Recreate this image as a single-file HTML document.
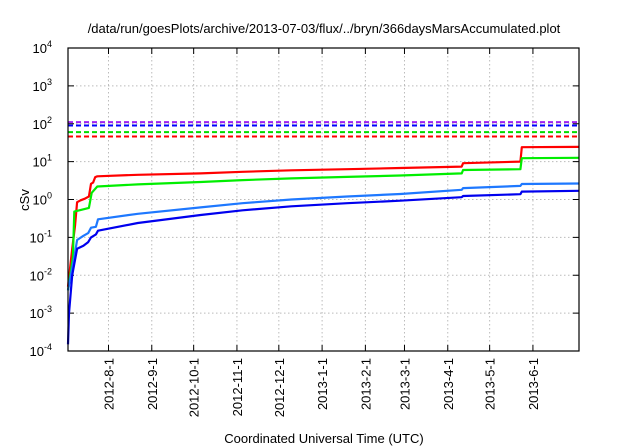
<!DOCTYPE html>
<html><head><meta charset="utf-8"><style>
body{margin:0;background:#fff;}
svg{display:block;font-family:"Liberation Sans",sans-serif;}
</style></head><body>
<svg id="chart" width="640" height="448" viewBox="0 0 640 448" xmlns="http://www.w3.org/2000/svg">
<text x="324" y="33" font-size="13" text-anchor="middle" fill="#000">/data/run/goesPlots/archive/2013-07-03/flux/../bryn/366daysMarsAccumulated.plot</text>
<text x="0" y="0" font-size="13" text-anchor="middle" transform="translate(29,200) rotate(-90)">cSv</text>
<text x="324" y="443" font-size="13" text-anchor="middle">Coordinated Universal Time (UTC)</text>
<g id="grid"></g><g id="axes"></g><g id="series"></g>
<rect x="68" y="48" width="511" height="303" fill="none" stroke="#000" stroke-width="1.2"/>
</svg>
<script>
const monthLabels=["2012-8-1","2012-9-1","2012-10-1","2012-11-1","2012-12-1","2013-1-1","2013-2-1","2013-3-1","2013-4-1","2013-5-1","2013-6-1"];
const monthDays=[29,60,90,121,151,182,213,241,272,302,333];
const decadeExps=[-4,-3,-2,-1,0,1,2,3,4];
const limitNames=["limit-purple","limit-blue","limit-green","limit-red"];
const limitValues=[110,90,60,46];
const limitColors=["#a020f0","#0000ff","#00dd00","#ff0000"];
const seriesNames=["red","green","light-blue","dark-blue"];
const seriesColors=["#ff0000","#00ee00","#1e78ff","#0000ee"];
const redDays=[0,3,5,6.5,9,12,15,16.5,18,19.5,21,50,95,125,160,200,238,282,283,324,325,366];
const redVals=[0.005,0.05,0.2,0.85,0.95,1.05,1.2,2.6,2.8,3.9,4.1,4.5,4.9,5.4,5.9,6.3,6.8,7.4,9.1,10,24,24.5];
const greenDays=[0,3.5,4.5,11,15,17,21,50,95,125,160,200,238,282,283,324,325,366];
const greenVals=[0.004,0.03,0.48,0.55,0.6,1.5,2.2,2.5,2.9,3.25,3.6,3.95,4.3,4.9,6,6.3,12.3,12.6];
const lblueDays=[0,4.5,6.5,11,14.5,16.5,20,21.5,50,95,125,160,200,238,282,283,324,325,366];
const lblueVals=[0.004,0.03,0.085,0.11,0.13,0.18,0.19,0.3,0.42,0.62,0.8,1.0,1.2,1.4,1.8,2.0,2.29,2.57,2.65];
const dblueDays=[0,0.7,3,4.5,6.5,11,14.5,16.5,20,21.5,50,95,125,160,200,238,282,283,324,325,366];
const dblueVals=[0.00015,0.001,0.01,0.02,0.05,0.06,0.075,0.1,0.12,0.15,0.24,0.39,0.52,0.66,0.8,0.93,1.15,1.24,1.38,1.62,1.7];
const allDays=[redDays,greenDays,lblueDays,dblueDays];
const allVals=[redVals,greenVals,lblueVals,dblueVals];

const X0=68,X1=579,Y0=48,Y1=351,DMAX=366;
const xs=d=>X0+(X1-X0)*d/DMAX;
const ys=v=>Y0+(4-Math.log10(v))*(Y1-Y0)/8;
const NS="http://www.w3.org/2000/svg";
function mk(tag,attrs,parent){const e=document.createElementNS(NS,tag);for(const k in attrs)e.setAttribute(k,attrs[k]);parent.appendChild(e);return e;}
const grid=document.getElementById('grid'),axes=document.getElementById('axes'),ser=document.getElementById('series');
decadeExps.forEach(p=>{
  const y=ys(Math.pow(10,p));
  if(p>-4&&p<4){const g=mk('line',{x1:X0,x2:X1,y1:y,y2:y,stroke:'#bbb','stroke-dasharray':'1.5,2.5'},grid);
  
  }
  const t=mk('line',{x1:X0,x2:X0+6,y1:y,y2:y,stroke:'#000'},axes);
  
  
  mk('line',{x1:X1-6,x2:X1,y1:y,y2:y,stroke:'#000'},axes);
  const tx=mk('text',{x:52,y:y+5,'font-size':13,'text-anchor':'end'},axes);
  
  
  tx.textContent='10';
  const sp=mk('tspan',{dy:-6,'font-size':9},tx);sp.textContent=String(p);
});
monthDays.forEach((d,i)=>{
  const x=xs(d);
  const g=mk('line',{x1:x,x2:x,y1:Y0,y2:Y1,stroke:'#bbb','stroke-dasharray':'1.5,2.5'},grid);
  
  
  mk('line',{x1:x,x2:x,y1:Y1-6,y2:Y1,stroke:'#000'},axes);
  mk('line',{x1:x,x2:x,y1:Y0,y2:Y0+6,stroke:'#000'},axes);
  const t=mk('text',{x:0,y:0,'font-size':13,'text-anchor':'end',transform:`translate(${x+5},${Y1+7}) rotate(-90)`},axes);
  
  
  t.textContent=monthLabels[i];
});
limitValues.forEach((v,i)=>{
  const y=ys(v);
  const l=mk('line',{x1:X0,x2:X1,y1:y,y2:y,stroke:limitColors[i],'stroke-width':2,'stroke-dasharray':'5,3'},ser);
  
  
});
allDays.forEach((ds,i)=>{
  const pts=ds.map((d,j)=>xs(d).toFixed(1)+','+ys(allVals[i][j]).toFixed(1)).join(' ');
  const p=mk('polyline',{points:pts,fill:'none',stroke:seriesColors[i],'stroke-width':2.2,'stroke-linejoin':'round'},ser);
  
  
});
</script>
</body></html>
